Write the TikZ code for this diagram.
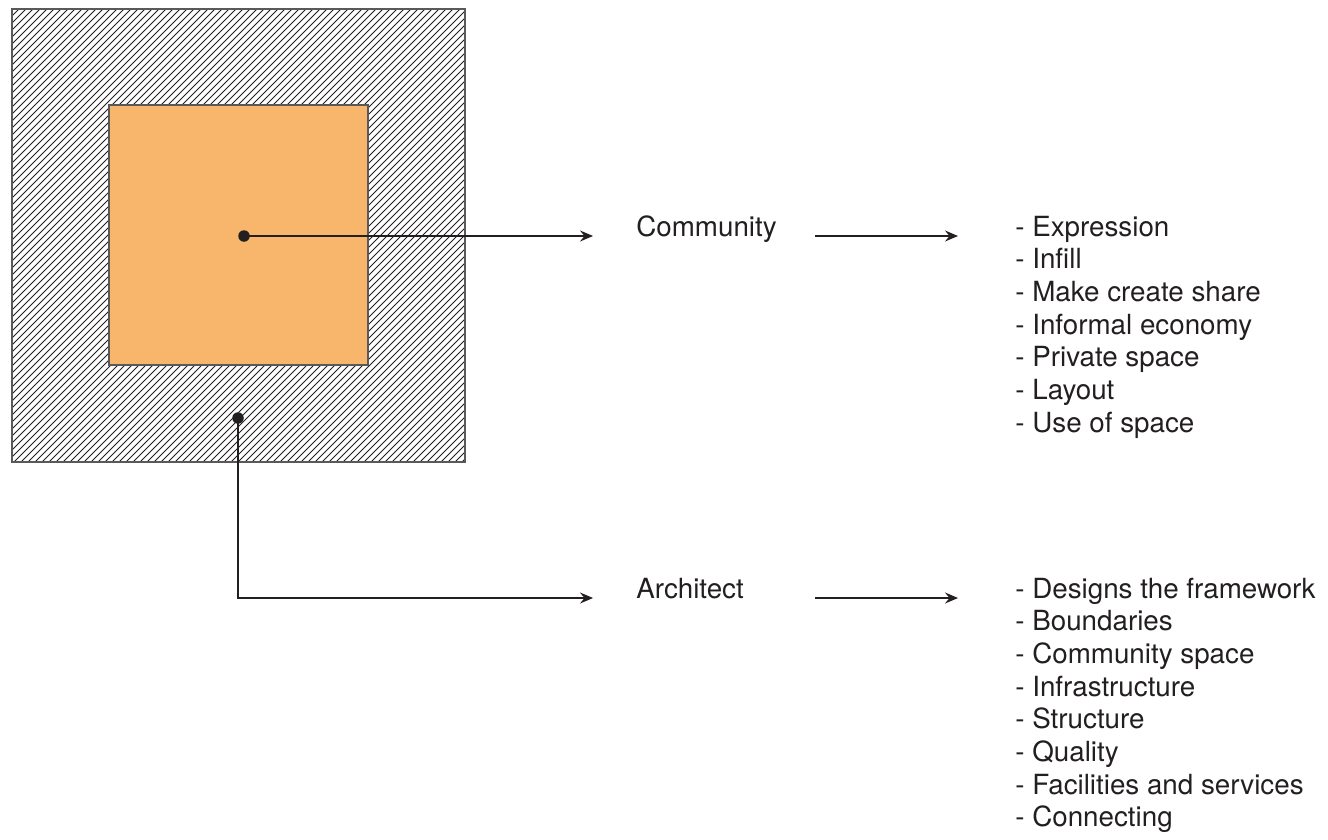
\documentclass[tikz,border=0pt]{standalone}
\usepackage{fontspec}
\setmainfont{TeX Gyre Heros}
\usetikzlibrary{arrows.meta}

\definecolor{plotorange}{RGB}{248,182,108}
\definecolor{inkgrey}{RGB}{35,31,32}

\tikzset{
	label/.style={inner sep=0pt, text=inkgrey, font=\fontsize{15.8}{18.5}\selectfont},
	dot/.style={circle, fill=inkgrey, inner sep=0pt, minimum size=0.23cm},
	arr/.style={-{Stealth[length=2.6mm,width=2.2mm,inset=0.9mm]}, line width=0.8pt, draw=inkgrey},
	hatchline/.style={line width=0.45pt, inkgrey},
}

\begin{document}
\begin{tikzpicture}[x=0.02cm,y=-0.02cm]
		\useasboundingbox (0,0) rectangle (1328,839);
		% hatched outer square
		\begin{scope}
			\clip (12,9) rectangle (465,462);
			\foreach \c in {21,28,...,931} {
				\draw[hatchline] (\c-470,470) -- (\c,0);
			}
		\end{scope}
		\draw[gray!70!black,line width=0.6pt] (12,9) rectangle (465,462);
		\draw[gray!70!black,line width=0.6pt,fill=plotorange] (109,105) rectangle (368,365);
		\node[dot] (dotA) at (244,236) {};
		\node[dot] (dotB) at (238,418) {};
		% labels
		\node[label,anchor=base west] (comm) at (636,236) {Community};
		\node[label,anchor=base west] (arch) at (636,598) {Architect};
		\foreach \t [count=\i from 0] in {Expression,Infill,Make create share,Informal economy,Private space,Layout,Use of space} {
			\node[label,anchor=base west] (commlist-\i) at (1015,236+32.7*\i) {- \t};
		}
		\foreach \t [count=\i from 0] in {Designs the framework,Boundaries,Community space,Infrastructure,Structure,Quality,Facilities and services,Connecting} {
			\node[label,anchor=base west] (archlist-\i) at (1015,598+32.7*\i) {- \t};
		}
		% connectors
		\draw[arr,shorten >=0.86cm] (dotA.center) -- (comm.base west);
		\draw[arr,shorten >=0.86cm] (dotB.center) |- (arch.base west);
		\draw[arr,shorten <=0.76cm,shorten >=1.14cm] (comm.base east) -- (commlist-0.base west);
		\draw[arr,shorten <=0.76cm,shorten >=1.14cm] (arch.base -| comm.base east) -- (archlist-0.base west);
	\end{tikzpicture}
\end{document}
